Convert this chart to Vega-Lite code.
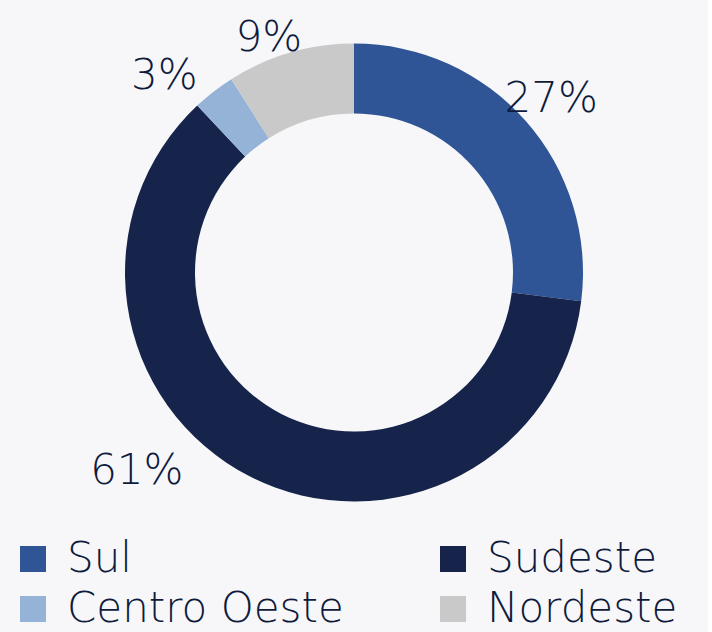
{
  "$schema": "https://vega.github.io/schema/vega-lite/v6.json",
  "width": 708,
  "height": 545,
  "padding": {"left": 0, "top": 0, "right": 0, "bottom": 8},
  "autosize": {"type": "pad"},
  "background": "#F7F7F9",
  "config": {"view": {"stroke": null}},
  "data": {
    "values": [
      {"region": "Sul", "value": 27, "label": "27%", "ord": 1},
      {"region": "Sudeste", "value": 61, "label": "61%", "ord": 2},
      {"region": "Centro Oeste", "value": 3, "label": "3%", "ord": 3},
      {"region": "Nordeste", "value": 9, "label": "9%", "ord": 4}
    ]
  },
  "encoding": {
    "theta": {"field": "value", "type": "quantitative", "stack": true},
    "order": {"field": "ord", "type": "quantitative"}
  },
  "layer": [
    {
      "mark": {"type": "arc", "outerRadius": 229, "innerRadius": 159},
      "encoding": {
        "color": {
          "field": "region",
          "type": "nominal",
          "scale": {
            "domain": ["Sul", "Sudeste", "Centro Oeste", "Nordeste"],
            "range": ["#2F5597", "#16244B", "#95B3D7", "#C9C9C9"]
          },
          "legend": {
            "title": null,
            "orient": "none",
            "direction": "horizontal",
            "legendX": 12,
            "legendY": 538,
            "columns": 2,
            "columnPadding": 88,
            "rowPadding": 8,
            "symbolType": "square",
            "symbolSize": 676,
            "symbolStrokeWidth": 0,
            "labelFont": "DejaVu Sans",
            "labelFontWeight": 300,
            "labelFontSize": 42,
            "labelColor": "#0E1B3D",
            "labelOffset": 13,
            "labelLimit": 500
          }
        }
      }
    },
    {
      "mark": {"type": "text", "clip": true, "radius": 263, "font": "DejaVu Sans", "fontWeight": 300, "fontSize": 42, "color": "#0E1B3D", "align": "center", "baseline": "middle"},
      "encoding": {"text": {"condition": {"test": "datum.region === 'Sul'", "field": "label"}, "value": ""}}
    },
    {
      "mark": {"type": "text", "clip": true, "radius": 294, "thetaOffset": 0.36, "font": "DejaVu Sans", "fontWeight": 300, "fontSize": 42, "color": "#0E1B3D", "align": "center", "baseline": "middle"},
      "encoding": {"text": {"condition": {"test": "datum.region === 'Sudeste'", "field": "label"}, "value": ""}}
    },
    {
      "mark": {"type": "text", "clip": true, "radius": 273, "thetaOffset": -0.108, "font": "DejaVu Sans", "fontWeight": 300, "fontSize": 42, "color": "#0E1B3D", "align": "center", "baseline": "middle"},
      "encoding": {"text": {"condition": {"test": "datum.region === 'Centro Oeste'", "field": "label"}, "value": ""}}
    },
    {
      "mark": {"type": "text", "clip": true, "radius": 249, "thetaOffset": -0.066, "font": "DejaVu Sans", "fontWeight": 300, "fontSize": 42, "color": "#0E1B3D", "align": "center", "baseline": "middle"},
      "encoding": {"text": {"condition": {"test": "datum.region === 'Nordeste'", "field": "label"}, "value": ""}}
    }
  ]
}
